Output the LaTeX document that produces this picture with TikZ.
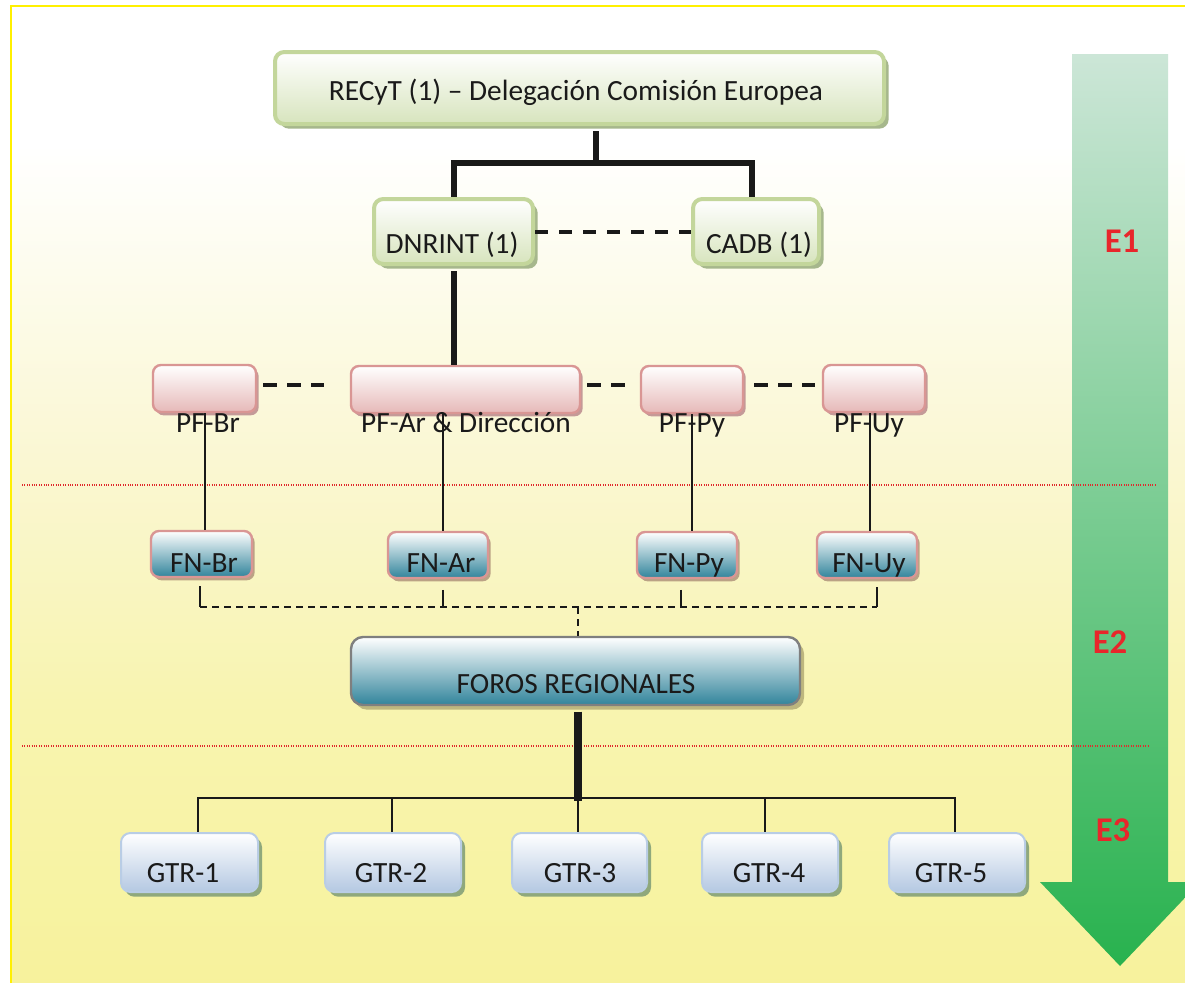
\documentclass[tikz,border=0pt]{standalone}
\usepackage{fontspec}
\setmainfont{Carlito}
\usetikzlibrary{fit,shadows}

\definecolor{bgA}{HTML}{F7F29B}
\definecolor{bgB}{HTML}{F8F4B0}
\definecolor{bgC}{HTML}{FAF7D2}
\definecolor{bgLine}{HTML}{FFF000}
\definecolor{arrTop}{HTML}{CCE6D7}
\definecolor{arrBot}{HTML}{28B24E}
\definecolor{eRed}{HTML}{E8262B}
\definecolor{sepRed}{HTML}{E0282C}
\definecolor{grnB}{HTML}{C3D69B}
\definecolor{grnF}{HTML}{D7E4BD}
\definecolor{grnS}{HTML}{A6B78C}
\definecolor{pnkB}{HTML}{D99694}
\definecolor{pnkF}{HTML}{E6B9B8}
\definecolor{pnkS}{HTML}{C49A98}
\definecolor{teal}{HTML}{31849B}
\definecolor{tealM}{HTML}{C9D7DD}
\definecolor{fnS}{HTML}{BBA285}
\definecolor{forB}{HTML}{7F7F7F}
\definecolor{forS}{HTML}{BDB67E}
\definecolor{gtrB}{HTML}{B9CDE5}
\definecolor{gtrF}{HTML}{B4C8E2}
\definecolor{gtrS}{HTML}{8FA87C}
\definecolor{ink}{HTML}{1A1A1A}

\pgfdeclareverticalshading{bgshade}{100bp}{%
  color(0bp)=(bgA); color(25bp)=(bgA); color(40bp)=(bgB);
  color(52bp)=(bgC); color(68bp)=(white); color(100bp)=(white)}

\begin{document}
\begin{tikzpicture}[x=0.75pt,y=-0.75pt,
  box/.style={inner sep=0pt, draw},
  greenbox/.style={box, draw=grnB, line width=3pt, rounded corners=7pt,
    top color=white, bottom color=grnF,
    general shadow={fill=grnS, shadow xshift=3.5pt, shadow yshift=-3.5pt}},
  pinkbox/.style={box, draw=pnkB, line width=1.8pt, rounded corners=6pt,
    top color=white, bottom color=pnkF,
    general shadow={fill=pnkS, shadow xshift=2pt, shadow yshift=-2.5pt}},
  fnbox/.style={box, draw=pnkB, line width=1.8pt, rounded corners=6pt,
    top color=white, middle color=tealM, bottom color=teal,
    general shadow={fill=fnS, shadow xshift=2pt, shadow yshift=-2.5pt}},
  forosbox/.style={box, draw=forB, line width=1.8pt, rounded corners=9pt,
    top color=white, middle color=tealM, bottom color=teal,
    general shadow={fill=forS, shadow xshift=3pt, shadow yshift=-3.5pt}},
  gtrbox/.style={box, draw=gtrB, line width=1.5pt, rounded corners=7pt,
    top color=white, bottom color=gtrF,
    general shadow={fill=gtrS, shadow xshift=3pt, shadow yshift=-3.5pt}},
  txt/.style={anchor=base, inner sep=0pt, text=ink, font=\fontsize{22}{26}\selectfont},
  elabel/.style={anchor=base, inner sep=0pt, text=eRed, font=\fontsize{26}{31}\selectfont\bfseries},
  thick link/.style={line width=4.8pt, draw=black!90},
  thin link/.style={line width=1.6pt, draw=black!90},
  bold dash/.style={line width=3pt, draw=black!90, dash pattern=on 10pt off 8pt},
  thin dash/.style={line width=1.6pt, draw=black!90, dash pattern=on 5pt off 4pt},
  separator/.style={draw=sepRed, line width=0.8pt, densely dotted}
]
\useasboundingbox (0,0) rectangle (1185,982);
\clip (0,0) rectangle (1185,982);

% page background with its yellow frame
\path[shading=bgshade] (11,6) rectangle (1200,1000);
\draw[bgLine, line width=1.6pt] (11,1000) -- (11,6) -- (1200,6);

% stage arrow on the right
\shade[top color=arrTop, bottom color=arrBot]
  (1072,54) -- (1168,54) -- (1168,882) -- (1200,882) -- (1120,966)
  -- (1040,882) -- (1072,882) -- cycle;

% stage separators
\draw[separator] (22,485) -- (1157,485);
\draw[separator] (22,746) -- (1148,746);

% stage labels
\node[elabel] (e1) at (1122,252) {E1};
\node[elabel] (e2) at (1110,653) {E2};
\node[elabel] (e3) at (1113,841) {E3};

% junction points
\coordinate (jtop) at (596,163);
\coordinate (jl) at (454,163);
\coordinate (jr) at (752,163);
\coordinate (xar) at (454,0);
\coordinate (vbr) at (205,0);
\coordinate (var) at (443,0);
\coordinate (vpy) at (692,0);
\coordinate (vuy) at (870,0);
\coordinate (bbr) at (200,607);
\coordinate (bar) at (443,607);
\coordinate (bpy) at (681,607);
\coordinate (buy) at (877,607);
\coordinate (bmid) at (578,607);
\coordinate (gbar) at (578,798);
\coordinate (g1) at (198,798);
\coordinate (g2) at (392,798);
\coordinate (g4) at (765,798);
\coordinate (g5) at (955,798);

% boxes
\node[greenbox, fit={(275,52) (884,124)}] (recyt) {};
\node[greenbox, fit={(374,199) (533,264)}] (dnrint) {};
\node[greenbox, fit={(693,199) (819,264)}] (cadb) {};

\node[pinkbox, fit={(153,365) (256,412)}] (pfbr) {};
\node[pinkbox, fit={(351,366) (580,413)}] (pfar) {};
\node[pinkbox, fit={(641,366) (743,413)}] (pfpy) {};
\node[pinkbox, fit={(823,365) (925,412)}] (pfuy) {};

\node[fnbox, fit={(151,531) (252,577)}] (fnbr) {};
\node[fnbox, fit={(388,532) (488,578)}] (fnar) {};
\node[fnbox, fit={(637,532) (737,578)}] (fnpy) {};
\node[fnbox, fit={(817,532) (917,578)}] (fnuy) {};

\node[forosbox, fit={(351,637) (800,705)}] (foros) {};

\node[gtrbox, fit={(121,833) (258,892)}] (gtr1) {};
\node[gtrbox, fit={(325,833) (461,892)}] (gtr2) {};
\node[gtrbox, fit={(512,833) (647,892)}] (gtr3) {};
\node[gtrbox, fit={(702,833) (838,892)}] (gtr4) {};
\node[gtrbox, fit={(889,833) (1025,892)}] (gtr5) {};

% labels
\node[txt] (t-recyt) at (576,100) {RECyT (1) – Delegación Comisión Europea};
\node[txt] (t-dnrint) at (452,253) {DNRINT (1)};
\node[txt] (t-cadb) at (759,253) {CADB (1)};
\node[txt] (t-pfbr) at (208,432) {PF-Br};
\node[txt] (t-pfar) at (466,432) {PF-Ar \& Dirección};
\node[txt] (t-pfpy) at (692,432) {PF-Py};
\node[txt] (t-pfuy) at (869,432) {PF-Uy};
\node[txt] (t-fnbr) at (204,572) {FN-Br};
\node[txt] (t-fnar) at (441,572) {FN-Ar};
\node[txt] (t-fnpy) at (689,572) {FN-Py};
\node[txt] (t-fnuy) at (869,572) {FN-Uy};
\node[txt] (t-foros) at (576,693) {FOROS REGIONALES};
\node[txt] (t-gtr1) at (183,882) {GTR-1};
\node[txt] (t-gtr2) at (391,882) {GTR-2};
\node[txt] (t-gtr3) at (580,882) {GTR-3};
\node[txt] (t-gtr4) at (769,882) {GTR-4};
\node[txt] (t-gtr5) at (951,882) {GTR-5};

% top tree
\draw[thick link] ([yshift=-4pt]recyt.south -| jtop) -- (jtop);
\draw[thick link] ([xshift=-2.4pt]jl) -- ([xshift=2.4pt]jr);
\draw[thick link] (jl) -- (jl |- dnrint.north);
\draw[thick link] (jr) -- (jr |- cadb.north);
\draw[bold dash] (dnrint.east) -- (cadb.west);
\draw[thick link] ([yshift=-4pt]dnrint.south -| xar) -- (xar |- pfar.north);

% focal points row
\draw[bold dash, shorten <=4.5pt, shorten >=19.5pt] (pfbr.east |- 0,385) -- (pfar.west |- 0,385);
\draw[bold dash, shorten <=4.5pt, shorten >=7.5pt] (pfar.east |- 0,385) -- (pfpy.west |- 0,385);
\draw[bold dash, shorten <=7.5pt, shorten >=5pt] (pfpy.east |- 0,385) -- (pfuy.west |- 0,385);

% focal points down to national forums
\draw[thin link] (vbr |- pfbr.south) -- (vbr |- fnbr.north);
\draw[thin link] (var |- pfar.south) -- (var |- fnar.north);
\draw[thin link] (vpy |- pfpy.south) -- (vpy |- fnpy.north);
\draw[thin link] (vuy |- pfuy.south) -- (vuy |- fnuy.north);

% national forums to regional forums
\draw[thin link] ([yshift=-6pt]bbr |- fnbr.south) -- (bbr);
\draw[thin link] ([yshift=-8pt]bar |- fnar.south) -- (bar);
\draw[thin link] ([yshift=-8pt]bpy |- fnpy.south) -- (bpy);
\draw[thin link] ([yshift=-6pt]buy |- fnuy.south) -- (buy);
\draw[thin dash] (bbr) -- (buy);
\draw[thin dash] (bmid) -- (bmid |- foros.north);

% regional forums to working groups
\draw[line width=6pt, draw=black!90] ([yshift=-4pt]foros.south -| gbar) -- ([yshift=-2pt]gbar);
\draw[thin link] ([xshift=-0.6pt]g1) -- ([xshift=0.6pt]g5);
\draw[thin link] (g1) -- (g1 |- gtr1.north);
\draw[thin link] (g2) -- (g2 |- gtr2.north);
\draw[thin link] (gbar) -- (gbar |- gtr3.north);
\draw[thin link] (g4) -- (g4 |- gtr4.north);
\draw[thin link] (g5) -- (g5 |- gtr5.north);
\end{tikzpicture}
\end{document}
